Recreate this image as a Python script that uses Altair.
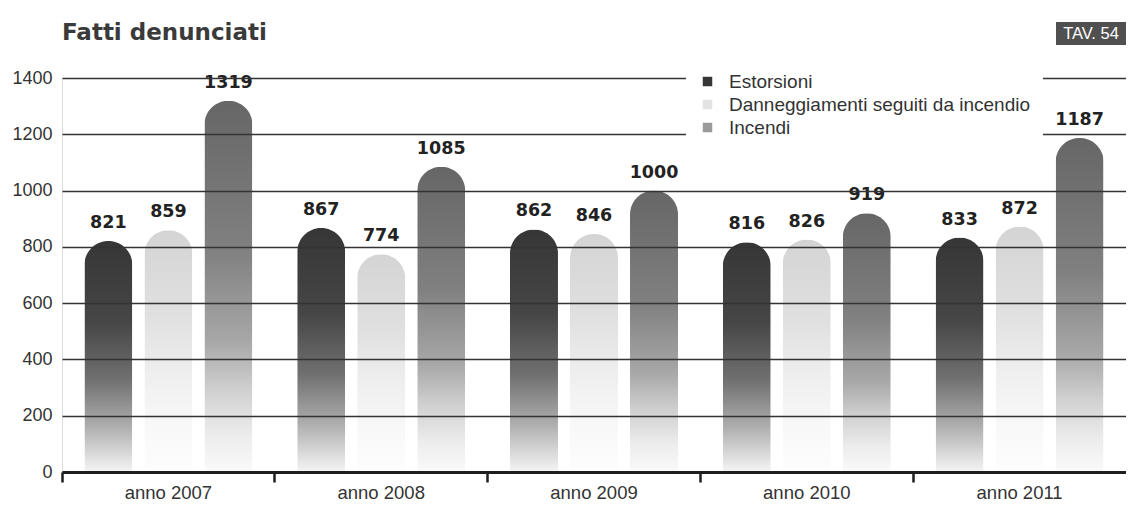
import altair as alt
import pandas as pd

years = ["anno 2007", "anno 2008", "anno 2009", "anno 2010", "anno 2011"]
series = ["Estorsioni", "Danneggiamenti seguiti da incendio", "Incendi"]
estorsioni = [821, 867, 862, 816, 833]
danneggiamenti = [859, 774, 846, 826, 872]
incendi = [1319, 1085, 1000, 919, 1187]
y_ticks = [0, 200, 400, 600, 800, 1000, 1200, 1400]

rows = []
for vals, s in zip([estorsioni, danneggiamenti, incendi], series):
    for y, v in zip(years, vals):
        rows.append({"anno": y, "serie": s, "valore": v})
df = pd.DataFrame(rows)

W, H = 1064, 394

def grad(stops):
    return alt.LinearGradient(
        gradient="linear", x1=0, y1=0, x2=0, y2=1,
        stops=[alt.GradientStop(offset=o, color=c) for o, c in stops],
    )

grads = {
    "Estorsioni": grad([(0, "#363636"), (0.35, "#464646"), (0.6, "#707070"), (0.8, "#adadad"), (0.93, "#dcdcdc"), (1, "#f5f5f5")]),
    "Danneggiamenti seguiti da incendio": grad([(0, "#d4d4d4"), (0.35, "#e0e0e0"), (0.6, "#efefef"), (0.8, "#f8f8f8"), (1, "#fdfdfd")]),
    "Incendi": grad([(0, "#666666"), (0.4, "#808080"), (0.65, "#a8a8a8"), (0.78, "#d0d0d0"), (0.9, "#ececec"), (1, "#fafafa")]),
}

x_enc = alt.X(
    "anno:N", sort=years, title=None,
    scale=alt.Scale(paddingInner=0, paddingOuter=0),
    axis=alt.Axis(
        bandPosition=0, domainColor="#1e1e1e", domainWidth=3,
        tickColor="#1e1e1e", tickWidth=2.5, tickSize=10, labelFontSize=18.5,
        labelFont="Liberation Sans", labelColor="#333333", labelPadding=16,
        labelBaseline="alphabetic", grid=False, labelAngle=0, zindex=1,
    ),
)
xo_enc = alt.XOffset(
    "serie:N", sort=series,
    scale=alt.Scale(domain=series, paddingInner=0, paddingOuter=0.273),
)
y_enc = alt.Y(
    "valore:Q", title=None,
    scale=alt.Scale(domain=[0, 1400], nice=False),
    axis=alt.Axis(
        values=y_ticks, format="d", domain=False, ticks=False, labelPadding=10,
        labelFontSize=18, labelFont="Liberation Sans", labelColor="#333333",
        grid=True, gridColor="#333333", gridWidth=1.3, zindex=1,
    ),
)

base = alt.Chart(df)

bar_layers = []
for s in series:
    bar_layers.append(
        base.transform_filter(alt.datum.serie == s)
        .mark_bar(size=48, color=grads[s], cornerRadiusTopLeft=24, cornerRadiusTopRight=24)
        .encode(x=x_enc, xOffset=xo_enc, y=y_enc)
    )

labels = base.mark_text(
    dy=-18, font="DejaVu Sans", fontWeight="bold", fontSize=17.5, color="#222222"
).encode(x=x_enc, xOffset=xo_enc, y=y_enc, text="valore:Q")

legend_layer = base.mark_square(opacity=0).encode(
    color=alt.Color(
        "serie:N", sort=series, title=None,
        scale=alt.Scale(domain=series, range=["#363636", "#e2e2e2", "#9a9a9a"]),
        legend=alt.Legend(
            orient="none", legendX=624, legendY=-18, fillColor="white",
            padding=12, symbolType="square", symbolSize=90, symbolOpacity=1,
            symbolStrokeWidth=0, labelFontSize=19, labelFont="Liberation Sans",
            labelColor="#333333", labelOffset=12, rowPadding=3, zindex=2,
            labelLimit=400,
        ),
    )
)

title_df = pd.DataFrame({"t": ["Fatti denunciati"]})
title_layer = alt.Chart(title_df).mark_text(
    align="left", baseline="middle", font="DejaVu Sans", fontWeight="bold",
    fontSize=23, color="#3a3a3a"
).encode(x=alt.value(0), y=alt.value(-45), text="t:N")

tav_df = pd.DataFrame({"t": ["TAV. 54"]})
tav_box = alt.Chart(tav_df).mark_rect(color="#505050").encode(
    x=alt.value(W - 70), x2=alt.value(W), y=alt.value(-56), y2=alt.value(-33)
)
tav_text = alt.Chart(tav_df).mark_text(
    align="center", baseline="middle", font="Liberation Sans", fontSize=16.5, color="white"
).encode(x=alt.value(W - 35), y=alt.value(-44), text="t:N")

chart = alt.layer(
    *bar_layers, labels, legend_layer, title_layer, tav_box, tav_text
).properties(
    width=W, height=H,
    autosize=alt.AutoSizeParams(type="none"),
    padding={"left": 54, "top": 70, "right": 0, "bottom": 32},
).configure_view(stroke=None).configure(background="white")

chart.save("out.html", embed_options={"renderer": "svg", "actions": False})
